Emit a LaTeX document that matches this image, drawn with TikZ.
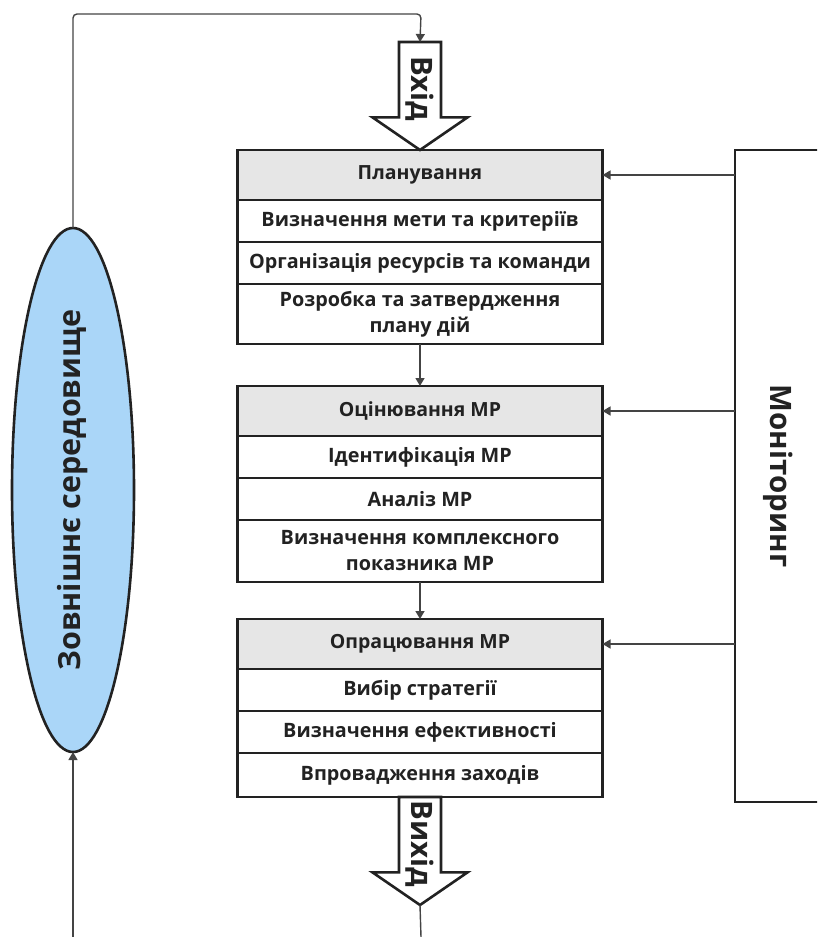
\documentclass[tikz,border=0pt]{standalone}
\usepackage{fontspec}
\setmainfont{Open Sans}
\usepackage{graphicx}
\usetikzlibrary{arrows.meta,positioning,shapes.geometric,shapes.arrows}
\definecolor{ink}{HTML}{222222}
\definecolor{linkgray}{HTML}{444444}
\definecolor{headgray}{HTML}{E6E6E6}
\definecolor{envblue}{HTML}{AAD6F8}
\tikzset{
  stagehead/.style={draw=ink,fill=headgray,line width=2.6pt,minimum width=365pt,
                    minimum height=50pt,inner sep=0pt,outer sep=0pt,align=center,
                    font=\fontsize{19.5}{22}\selectfont\bfseries,text=ink},
  stagerow/.style={draw=ink,fill=white,line width=2.6pt,minimum width=365pt,
                   minimum height=42pt,inner sep=0pt,outer sep=0pt,align=center,
                   font=\fontsize{19.8}{26}\selectfont\bfseries,text=ink},
  monbox/.style={draw=ink,line width=2.6pt,minimum width=86pt,minimum height=652pt,
                 inner sep=0pt,outer sep=0pt,
                 font=\fontsize{29.5}{32}\selectfont\bfseries,text=ink},
  envoval/.style={ellipse,draw=ink,fill=envblue,line width=2.6pt,minimum width=122pt,
                  minimum height=524pt,inner sep=0pt,outer sep=0pt,
                  font=\fontsize{30.5}{34}\selectfont\bfseries,text=ink},
  blockarr/.style={single arrow,draw=ink,fill=white,line width=2.6pt,rotate=-90,
                   minimum height=108pt,minimum width=95pt,inner sep=0pt,outer sep=0pt,
                   single arrow head extend=19.5pt,single arrow tip angle=111,
                   font=\fontsize{29.5}{32}\selectfont\bfseries,text=ink},
  linkarr/.style={-{Triangle[length=8pt,width=9pt]},line width=1.4pt,draw=linkgray}
}
\begin{document}
\begin{tikzpicture}[x=1pt,y=-1pt]
  \useasboundingbox (0,0) rectangle (817,937);
  \clip (0,0) rectangle (817,937);

  % planning
  \node[stagehead,anchor=north] (plan) at (420,150) {Планування};
  \node[stagerow,below=0pt of plan] (plan1) {Визначення мети та критеріїв};
  \node[stagerow,below=0pt of plan1] (plan2) {Організація ресурсів та команди};
  \node[stagerow,below=0pt of plan2,minimum height=60pt] (plan3)
    {Розробка та затвердження\\плану дій};

  % evaluation
  \node[stagehead,below=42pt of plan3] (eval) {Оцінювання МР};
  \node[stagerow,below=0pt of eval] (eval1) {Ідентифікація МР};
  \node[stagerow,below=0pt of eval1] (eval2) {Аналіз МР};
  \node[stagerow,below=0pt of eval2,minimum height=62pt] (eval3)
    {Визначення комплексного\\показника МР};

  % treatment
  \node[stagehead,below=37pt of eval3] (treat) {Опрацювання МР};
  \node[stagerow,below=0pt of treat] (treat1) {Вибір стратегії};
  \node[stagerow,below=0pt of treat1] (treat2) {Визначення ефективності};
  \node[stagerow,below=0pt of treat2,minimum height=44pt] (treat3) {Впровадження заходів};

  \node[blockarr,anchor=tip] (in) at (plan.north) {Вхід};
  \node[blockarr,anchor=tail] (out) at (treat3.south) {Вихід};

  \node[monbox,anchor=north west] (mon) at (735,150) {\rotatebox{-90}{Моніторинг}};
  \node[envoval] (env) at (73,490) {\rotatebox{90}{Зовнішнє середовище}};

  \coordinate (top) at (421,14);
  \coordinate (envin) at (73,937);
  \coordinate (outend) at (421,937);

  \draw[linkarr] (plan3.south) -- (eval.north);
  \draw[linkarr] (eval3.south) -- (treat.north);
  \draw[linkarr] (plan.east -| mon.west) -- (plan.east);
  \draw[linkarr] (eval.east -| mon.west) -- (eval.east);
  \draw[linkarr] (treat.east -| mon.west) -- (treat.east);
  \draw[linkarr,rounded corners=4pt] (env.north) |- (top) -- (in.tail);
  \draw[linkarr] (envin) -- (env.south);
  \draw[line width=1.4pt,draw=linkgray] (out.tip) -- (outend);
\end{tikzpicture}
\end{document}
